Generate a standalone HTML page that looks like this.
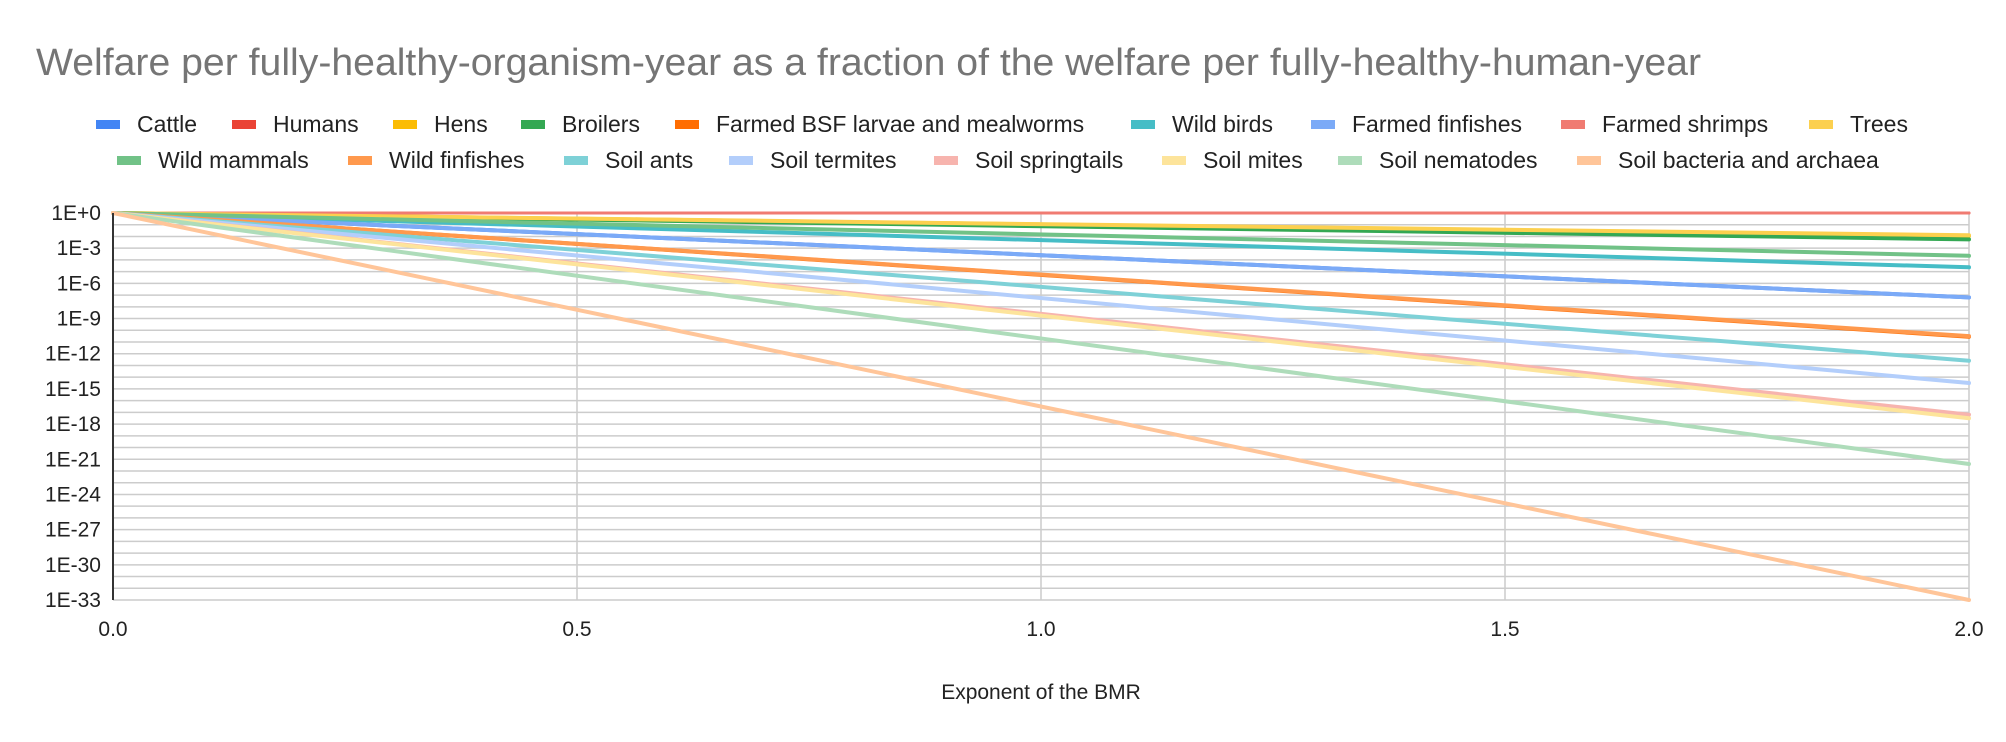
<!DOCTYPE html>
<html><head><meta charset="utf-8"><style>
html,body{margin:0;padding:0;background:#fff;}
svg{display:block;font-family:"Liberation Sans",Arial,sans-serif;}
</style></head><body>
<svg id="chart" width="2006" height="742" viewBox="0 0 2006 742" xmlns="http://www.w3.org/2000/svg">
<rect width="2006" height="742" fill="#fff"/>
<text x="36" y="75" font-size="38" fill="#757575" textLength="1665" lengthAdjust="spacingAndGlyphs">Welfare per fully-healthy-organism-year as a fraction of the welfare per fully-healthy-human-year</text>
<g id="legend"></g>
<g id="grid"></g>
<g id="series"></g>
<g id="axes"></g>
<text x="1041" y="699" font-size="21" fill="#222" text-anchor="middle">Exponent of the BMR</text>
</svg>
<script>
const seriesNames = ["Cattle","Humans","Hens","Broilers","Farmed BSF larvae and mealworms","Wild birds","Farmed finfishes","Farmed shrimps","Trees","Wild mammals","Wild finfishes","Soil ants","Soil termites","Soil springtails","Soil mites","Soil nematodes","Soil bacteria and archaea"];
const seriesColors = ["#4285f4","#ea4335","#fbbc04","#34a853","#ff6d01","#46bdc6","#7baaf7","#f07b72","#fcd04f","#71c287","#ff994d","#7ed1d7","#b3cefb","#f7b4ae","#fde49b","#aedcba","#ffc599"];
const xValues = [0, 2];
// log10 of the value at exponent 0 and 2
const startLog = [0,0,0,0,0,0,0,0,0,0,0,0,0,0,0,0,0];
const endLog = [-7.2,0,-1.95,-2.25,-10.55,-4.63,-7.2,0,-1.9,-3.65,-10.5,-12.6,-14.5,-17.2,-17.5,-21.4,-33];
const yTickLabels = ["1E+0","1E-3","1E-6","1E-9","1E-12","1E-15","1E-18","1E-21","1E-24","1E-27","1E-30","1E-33"];
const yTickValues = [0,-3,-6,-9,-12,-15,-18,-21,-24,-27,-30,-33];
const xTickValues = [0,0.5,1,1.5,2];
const xTickLabels = ["0.0","0.5","1.0","1.5","2.0"];

const L=113,R=1969,T=213,B=600;
const xS=v=>L+(v-0)/(2-0)*(R-L);
const yS=v=>T+(0-v)/(33)*(B-T);
const NS="http://www.w3.org/2000/svg";
function mk(tag,attrs,parent){const e=document.createElementNS(NS,tag);for(const k in attrs)e.setAttribute(k,attrs[k]);parent.appendChild(e);return e;}

const grid=document.getElementById('grid');
for(let d=0;d>=-33;d--){
  const g=mk('line',{x1:L,x2:R,y1:yS(d),y2:yS(d),stroke:"#cccccc","stroke-width":1.5},grid);
  
  
}
xTickValues.forEach(v=>{
  if(v===0)return;
  const g=mk('line',{x1:xS(v),x2:xS(v),y1:T,y2:B,stroke:"#cccccc","stroke-width":1.5},grid);
  
  
});

const sg=document.getElementById('series');
seriesNames.forEach((n,i)=>{
  const p=mk('line',{x1:xS(xValues[0]),y1:yS(startLog[i]),x2:xS(xValues[1]),y2:yS(endLog[i]),stroke:seriesColors[i],"stroke-width":(endLog[i]===0?3:4),"stroke-linecap":"round"},sg);
  
  
});

const ax=document.getElementById('axes');
const yl=mk('line',{x1:L,x2:L,y1:T,y2:B,stroke:"#333","stroke-width":2},ax);


yTickValues.forEach((v,i)=>{
  const t=mk('text',{x:101,y:yS(v)+7,"font-size":21,fill:"#222","text-anchor":"end"},ax);
  t.textContent=yTickLabels[i];
  
  
});
xTickValues.forEach((v,i)=>{
  const t=mk('text',{x:xS(v),y:636,"font-size":21,fill:"#222","text-anchor":"middle"},ax);
  t.textContent=xTickLabels[i];
  
  
});

const legendX=[96,232,393,521,675,1131,1311,1561,1809,117,348,564,729,934,1162,1338,1577];
const lg=document.getElementById('legend');
seriesNames.forEach((n,i)=>{
  const row=i<9?0:1;
  const cy=row===0?124:160;
  const g=mk('g',{},lg);
  
  
  mk('rect',{x:legendX[i],y:cy-4,width:24,height:9,fill:seriesColors[i]},g);
  const t=mk('text',{x:legendX[i]+41,y:cy+8,"font-size":23,fill:"#222"},g);
  t.textContent=n;
});
</script>
</body></html>
